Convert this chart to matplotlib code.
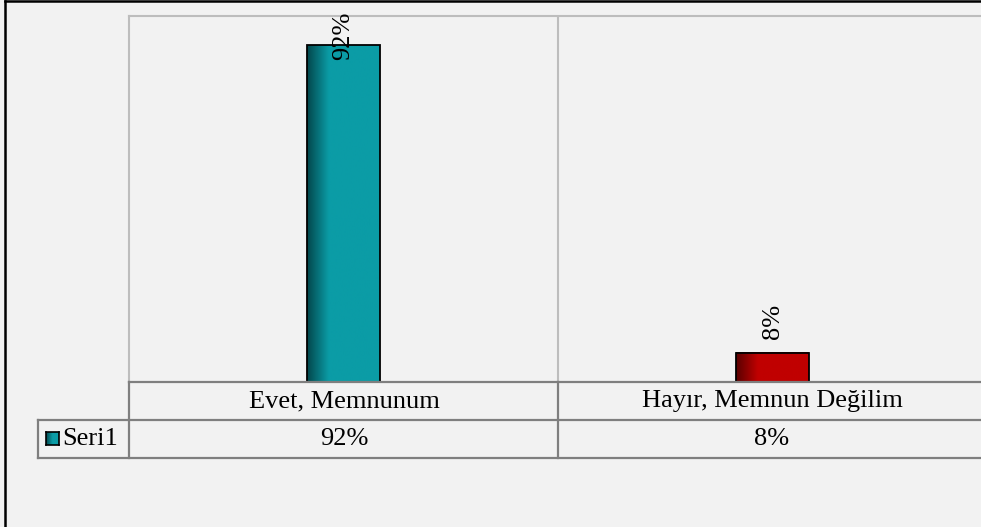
import numpy as np
import matplotlib.pyplot as plt
from matplotlib.colors import LinearSegmentedColormap
from matplotlib.lines import Line2D
from matplotlib.patches import Rectangle

# 데이터
categories = ["Evet, Memnunum", "Hayır, Memnun Değilim"]
values = [92, 8]
value_labels = ["92%", "8%"]
series_name = "Seri1"
bar_colors = [("#03474c", "#0b9ca6"), ("#5a0000", "#c00000")]

W, H = 981, 527
BG = "#f2f2f2"
GRID = "#bdbdbd"
TABLE = "#7f7f7f"
FONT = "Liberation Serif"
FS = 19

fig = plt.figure(figsize=(W / 100, H / 100), dpi=100, facecolor=BG)


def fx(x):
    return x / W


def fy(y):
    return 1 - y / H


# 그림 테두리 (왼쪽, 위)
fig.add_artist(Line2D([fx(5), fx(5)], [fy(1), fy(H + 5)], color="black", lw=1.8))
fig.add_artist(Line2D([fx(5), fx(W + 5)], [fy(1), fy(1)], color="black", lw=1.8))

# 플롯 영역
left, right, top, bottom = 129, 987, 16, 382
ax = fig.add_axes([fx(left), fy(bottom), (right - left) / W, (bottom - top) / H])
ax.set_facecolor(BG)
ax.set_xlim(-0.5, 1.5)
ax.set_ylim(0, 100)
ax.set_xticks([])
ax.set_yticks([])
for s in ["right", "bottom"]:
    ax.spines[s].set_visible(False)
for s in ["left", "top"]:
    ax.spines[s].set_color(GRID)
    ax.spines[s].set_linewidth(1.5)
ax.axvline(0.5, color=GRID, lw=1.5)

bw = 0.168
for i, (v, (dark, base)) in enumerate(zip(values, bar_colors)):
    cmap = LinearSegmentedColormap.from_list(
        "g", [(0, dark), (0.3, base), (1, base)])
    grad = np.linspace(0, 1, 200).reshape(1, -1)
    ax.imshow(grad, cmap=cmap, aspect="auto", extent=[i - bw / 2, i + bw / 2, 0, v],
              zorder=2, interpolation="bilinear")
    ax.add_patch(Rectangle((i - bw / 2, 0), bw, v, fill=False, ec="black",
                           lw=1.3, zorder=3))
    ly = min(v + 8.5, 94.5)
    ax.text(i, ly, value_labels[i], rotation=90, ha="center", va="center",
            fontsize=FS, family=FONT, zorder=4)

# 데이터 테이블
r0, r1, r2 = 382, 420, 458
leg_l = 38
mids = [344, 772]


def hline(y, x0, x1):
    fig.add_artist(Line2D([fx(x0), fx(x1)], [fy(y), fy(y)], color=TABLE, lw=1.6))


def vline(x, y0, y1):
    fig.add_artist(Line2D([fx(x), fx(x)], [fy(y0), fy(y1)], color=TABLE, lw=1.6))


hline(r0, left, W + 5)
hline(r1, leg_l, W + 5)
hline(r2, leg_l, W + 5)
vline(leg_l, r1, r2)
vline(left, r0, r2)
vline(558, r0, r2)

for m, c, lab in zip(mids, categories, value_labels):
    fig.text(fx(m), fy((r0 + r1) / 2), c, ha="center", va="center",
             fontsize=FS, family=FONT)
    fig.text(fx(m), fy((r1 + r2) / 2), lab, ha="center", va="center",
             fontsize=FS, family=FONT)

# 범례 키
kx, ky, ks = 46, 432, 13
cmap = LinearSegmentedColormap.from_list("k", ["#03474c", "#0b9ca6", "#0b9ca6"])
kax = fig.add_axes([fx(kx), fy(ky + ks), ks / W, ks / H])
kax.imshow(np.linspace(0, 1, 50).reshape(1, -1), cmap=cmap, aspect="auto")
kax.set_xticks([])
kax.set_yticks([])
for s in kax.spines.values():
    s.set_color("black")
    s.set_linewidth(1.2)
fig.text(fx(62), fy((r1 + r2) / 2), series_name, ha="left", va="center",
         fontsize=FS, family=FONT)

fig.savefig("out.png", dpi=100, facecolor=BG)
